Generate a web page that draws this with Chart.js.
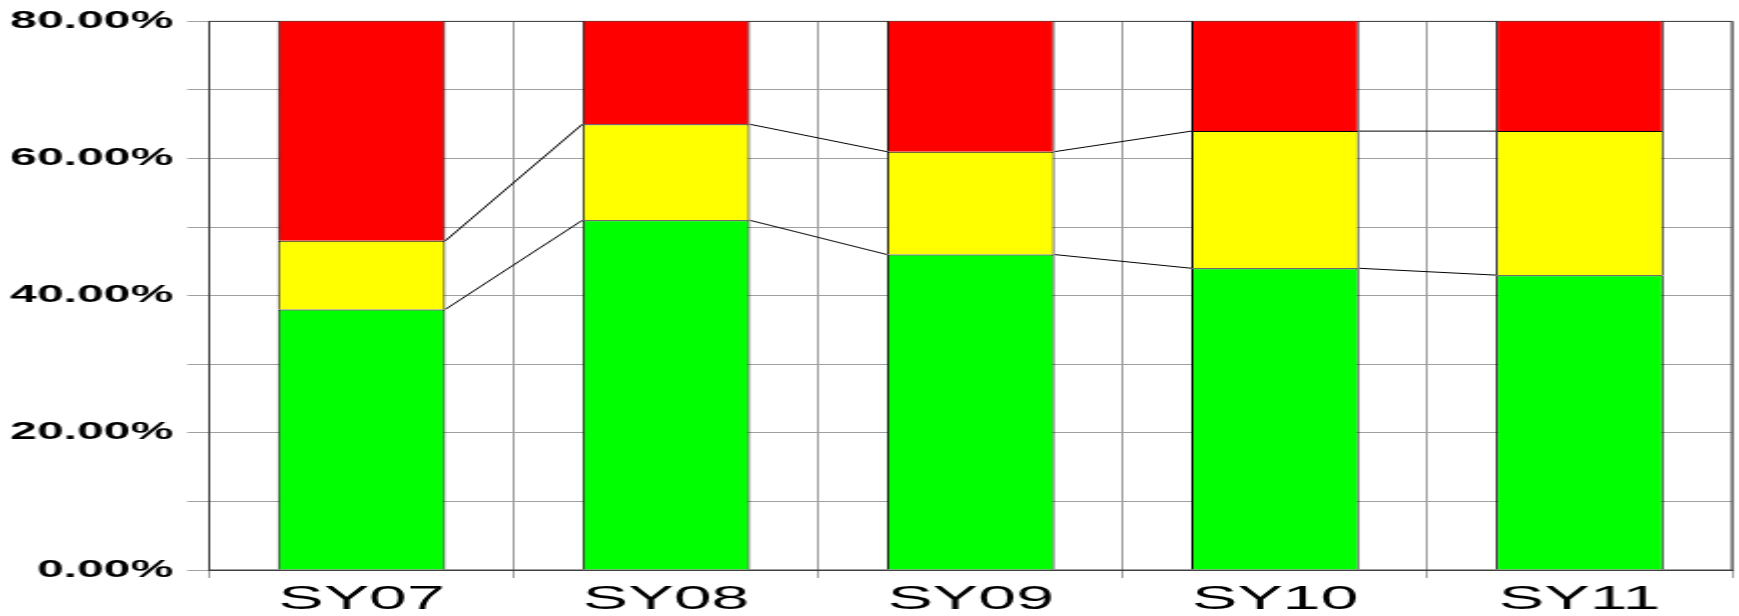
<!DOCTYPE html>
<html>
<head>
<meta charset="utf-8">
<script src="https://cdn.jsdelivr.net/npm/chart.js@4.4.0/dist/chart.umd.min.js"></script>
<style>
html, body { margin: 0; padding: 0; background: #fff; overflow: hidden; }
/* the original picture is stretched 2x horizontally, so draw at half width and scale */
#wrap { position: absolute; left: 0; top: 0; width: 869.5px; height: 616px; transform: scaleX(2); transform-origin: 0 0; }
</style>
</head>
<body>
<div id="wrap"><canvas id="myChart"></canvas></div>
<script>
const categories = ['SY07', 'SY08', 'SY09', 'SY10', 'SY11'];
const greenVals = [38, 51, 46, 44, 43];
const yellowVals = [10, 14, 15, 20, 21];
const redVals = [52, 35, 39, 36, 36];

const GRID = '#a0a0a0';
const AXIS = '#404040';

// black "series lines" between the tops of the stacked segments
const seriesLines = {
    id: 'seriesLines',
    afterDatasetsDraw(chart) {
        const ctx = chart.ctx;
        ctx.save();
        ctx.strokeStyle = '#000';
        ctx.lineWidth = 1;
        [0, 1].forEach(d => {
            const bars = chart.getDatasetMeta(d).data;
            for (let i = 0; i < bars.length - 1; ++i) {
                const a = bars[i], b = bars[i + 1];
                ctx.beginPath();
                ctx.moveTo(a.x + a.width / 2, a.y);
                ctx.lineTo(b.x - b.width / 2, b.y);
                ctx.stroke();
            }
        });
        ctx.restore();
    }
};

// box round the plot area
const plotBox = {
    id: 'plotBox',
    beforeDatasetsDraw(chart) {
        const {ctx, chartArea: a} = chart;
        ctx.save();
        ctx.strokeStyle = AXIS;
        ctx.lineWidth = 1;
        ctx.strokeRect(a.left, a.top, a.right - a.left, a.bottom - a.top);
        ctx.restore();
    }
};

function barSet(label, data, color) {
    return {
        label: label,
        data: data,
        backgroundColor: color,
        borderColor: '#000',
        borderWidth: 1,
        barPercentage: 0.55,
        categoryPercentage: 1,
        clip: 0,
    };
}

new Chart(document.getElementById('myChart'), {
    type: 'bar',
    data: {
        labels: categories,
        datasets: [
            barSet('Green', greenVals, '#00ff00'),
            barSet('Yellow', yellowVals, '#ffff00'),
            barSet('Red', redVals, '#ff0000'),
        ]
    },
    options: {
        responsive: true,
        maintainAspectRatio: false,
        animation: false,
        layout: { padding: { top: 20, right: 4.5, bottom: 0, left: 0 } },
        plugins: { legend: { display: false }, tooltip: { enabled: false } },
        scales: {
            x: {
                stacked: true,
                grid: { color: GRID, lineWidth: 1, tickLength: 8, offset: true },
                border: { color: AXIS, width: 1 },
                ticks: {
                    color: '#000',
                    padding: 1,
                    font: { family: 'Liberation Sans, Arial, sans-serif', size: 34 }
                },
                afterFit(scale) { scale.height = 46; }
            },
            y: {
                stacked: true,
                min: 0,
                max: 80,
                grid: { color: GRID, lineWidth: 1, tickLength: 11 },
                border: { color: AXIS, width: 1 },
                ticks: {
                    stepSize: 10,
                    autoSkip: false,
                    color: '#000',
                    padding: 7,
                    font: { family: 'Liberation Sans, Arial, sans-serif', size: 24, weight: 'bold' },
                    callback: v => (v % 20 === 0 ? v.toFixed(2) + '%' : '')
                },
                afterFit(scale) { scale.width = 104.5; }
            }
        }
    },
    plugins: [plotBox, seriesLines]
});
</script>
</body>
</html>
